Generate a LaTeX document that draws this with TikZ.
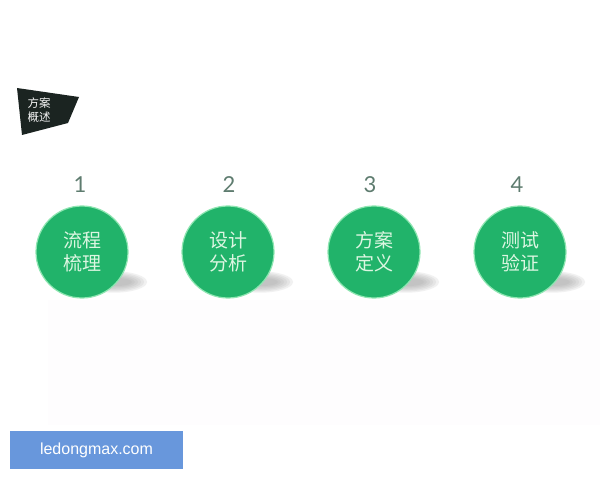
\documentclass[tikz,border=0pt]{standalone}
\usepackage{fontspec}
\newfontfamily\cjk{Noto Sans CJK SC}
\newfontfamily\latofont{Lato}
\newfontfamily\urlfont{Liberation Sans}
\definecolor{circgreen}{HTML}{21B36A}
\definecolor{glowgreen}{HTML}{8FE6B2}
\definecolor{txtgreen}{HTML}{DDF6E2}
\definecolor{numgray}{HTML}{5E7C6F}
\definecolor{headdark}{HTML}{1B2421}
\definecolor{urlblue}{HTML}{6897DC}
\definecolor{shadowgray}{HTML}{9A9A9A}
\definecolor{faintbg}{HTML}{FEFDFE}
\tikzset{
  stepcircle/.style={circle, fill=circgreen, draw=glowgreen, line width=1.2bp,
    minimum size=92bp, inner sep=0pt, align=center, text=txtgreen,
    font=\cjk\fontsize{19bp}{23bp}\selectfont},
  stepnum/.style={text=numgray, font=\latofont\fontsize{22bp}{24bp}\selectfont, inner sep=0pt},
}
\begin{document}
\begin{tikzpicture}[x=1bp,y=-1bp]
\useasboundingbox (0,0) rectangle (600,480);
\fill[white] (0,0) rectangle (600,480);
\fill[faintbg] (48,300) rectangle (600,425);
% header
\fill[headdark] (17,88) -- (79,97) -- (68,123) -- (22,135) -- cycle;
\node[text=white!92!gray, align=center, inner sep=0pt,
  font=\cjk\fontsize{11.5bp}{14bp}\selectfont] (head) at (39,110) {方案\\概述};
% shadows
\foreach \x in {82,228,374,520}{
  \foreach \k in {1,...,6}{
    \fill[shadowgray, opacity=0.13] (\x+32,282) ellipse ({36-3*\k} and {12-1.3*\k});
  }
}
% circles
\node[stepcircle] (c1) at (82,252) {流程\\梳理};
\node[stepcircle] (c2) at (228,252) {设计\\分析};
\node[stepcircle] (c3) at (374,252) {方案\\定义};
\node[stepcircle] (c4) at (520,252) {测试\\验证};
% numbers
\node[stepnum] (n1) at (80,185) {1};
\node[stepnum] (n2) at (229,185) {2};
\node[stepnum] (n3) at (370,185) {3};
\node[stepnum] (n4) at (517,185) {4};
% url box
\node[fill=urlblue, minimum width=173bp, minimum height=38bp, inner sep=0pt,
  text=white, font=\urlfont\fontsize{16bp}{18bp}\selectfont] (url) at (96.5,450) {ledongmax.com};
\end{tikzpicture}
\end{document}
